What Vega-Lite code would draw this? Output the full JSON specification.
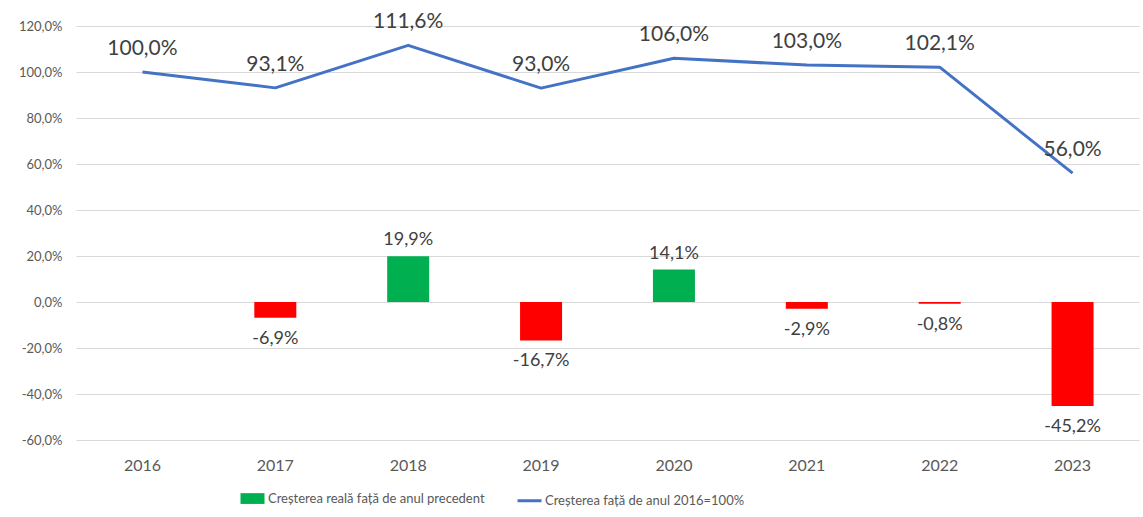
{
  "$schema": "https://vega.github.io/schema/vega-lite/v6.json",
  "width": 1063,
  "height": 414,
  "autosize": "none",
  "padding": {"left": 76, "top": 26, "right": 4, "bottom": 77},
  "background": "white",
  "data": {
    "values": [
      {"year": "2016", "series": "Creșterea față de anul 2016=100%", "value": 1.0},
      {"year": "2017", "series": "Creșterea față de anul 2016=100%", "value": 0.931},
      {"year": "2018", "series": "Creșterea față de anul 2016=100%", "value": 1.116},
      {"year": "2019", "series": "Creșterea față de anul 2016=100%", "value": 0.93},
      {"year": "2020", "series": "Creșterea față de anul 2016=100%", "value": 1.06},
      {"year": "2021", "series": "Creșterea față de anul 2016=100%", "value": 1.03},
      {"year": "2022", "series": "Creșterea față de anul 2016=100%", "value": 1.021},
      {"year": "2023", "series": "Creșterea față de anul 2016=100%", "value": 0.56},
      {"year": "2017", "series": "Creșterea reală față de anul precedent", "value": -0.069},
      {"year": "2018", "series": "Creșterea reală față de anul precedent", "value": 0.199},
      {"year": "2019", "series": "Creșterea reală față de anul precedent", "value": -0.167},
      {"year": "2020", "series": "Creșterea reală față de anul precedent", "value": 0.141},
      {"year": "2021", "series": "Creșterea reală față de anul precedent", "value": -0.029},
      {"year": "2022", "series": "Creșterea reală față de anul precedent", "value": -0.008},
      {"year": "2023", "series": "Creșterea reală față de anul precedent", "value": -0.452}
    ]
  },
  "encoding": {
    "x": {
      "field": "year",
      "type": "ordinal",
      "title": null,
      "scale": {"paddingInner": 0, "paddingOuter": 0},
      "axis": {"labelAngle": 0, "ticks": false, "domain": false, "grid": false, "labelPadding": 17, "labelFontSize": 16, "labelColor": "#595959", "labelFont": "Lato"}
    },
    "y": {
      "field": "value",
      "type": "quantitative",
      "title": null,
      "scale": {"domain": [-0.6, 1.2], "nice": false, "zero": false},
      "axis": {"values": [-0.6, -0.4, -0.2, 0, 0.2, 0.4, 0.6, 0.8, 1.0, 1.2], "format": ".1%", "ticks": false, "domain": false, "labelPadding": 14, "labelFontSize": 13, "labelColor": "#595959", "labelFont": "Lato", "gridColor": "#d9d9d9", "gridWidth": 1}
    }
  },
  "layer": [
    {
      "transform": [{"filter": "datum.series === 'Creșterea reală față de anul precedent'"}],
      "mark": {"type": "bar", "size": 42},
      "encoding": {
        "color": {
          "condition": {"test": "datum.value < 0", "value": "#FF0000"},
          "field": "series",
          "type": "nominal",
          "scale": {"domain": ["Creșterea reală față de anul precedent", "Creșterea față de anul 2016=100%"], "range": ["#00B050", "#4472C4"]},
          "legend": {
            "title": null,
            "orient": "none",
            "legendX": 163,
            "legendY": 459,
            "direction": "horizontal",
            "columnPadding": 26,
            "labelOffset": 2,
            "labelFontSize": 13,
            "labelFont": "Lato",
            "labelColor": "#595959",
            "symbolSize": 576,
            "labelLimit": 400,
            "encode": {
              "symbols": {
                "update": {
                  "shape": {"signal": "datum.value === 'Creșterea reală față de anul precedent' ? 'M-1,-0.45H1V0.45H-1Z' : 'stroke'"},
                  "fill": {"signal": "datum.value === 'Creșterea reală față de anul precedent' ? '#00B050' : 'transparent'"},
                  "stroke": {"signal": "datum.value === 'Creșterea reală față de anul precedent' ? 'transparent' : '#4472C4'"},
                  "strokeWidth": {"value": 3},
                  "opacity": {"value": 1}
                }
              }
            }
          }
        }
      }
    },
    {
      "transform": [{"filter": "datum.series === 'Creșterea reală față de anul precedent' && datum.value >= 0"}],
      "mark": {"type": "text", "baseline": "alphabetic", "dy": -11, "fontSize": 18, "font": "Lato", "color": "#404040"},
      "encoding": {"text": {"field": "value", "type": "quantitative", "format": ".1%"}}
    },
    {
      "transform": [{"filter": "datum.series === 'Creșterea reală față de anul precedent' && datum.value < 0"}],
      "mark": {"type": "text", "baseline": "middle", "dy": 21, "fontSize": 18, "font": "Lato", "color": "#404040"},
      "encoding": {"text": {"field": "value", "type": "quantitative", "format": ".1%"}}
    },
    {
      "transform": [{"filter": "datum.series === 'Creșterea față de anul 2016=100%'"}],
      "mark": {"type": "line", "strokeWidth": 3, "color": "#4472C4", "strokeJoin": "round"},
      "encoding": {"x": {"field": "year", "type": "ordinal", "bandPosition": 0.5}}
    },
    {
      "transform": [{"filter": "datum.series === 'Creșterea față de anul 2016=100%'"}],
      "mark": {"type": "text", "baseline": "middle", "dy": -23, "fontSize": 21, "font": "Lato", "color": "#404040"},
      "encoding": {"text": {"field": "value", "type": "quantitative", "format": ".1%"}}
    }
  ],
  "config": {
    "view": {"stroke": null},
    "locale": {"number": {"decimal": ",", "thousands": ".", "grouping": [3], "currency": ["", ""], "minus": "-"}}
  }
}
